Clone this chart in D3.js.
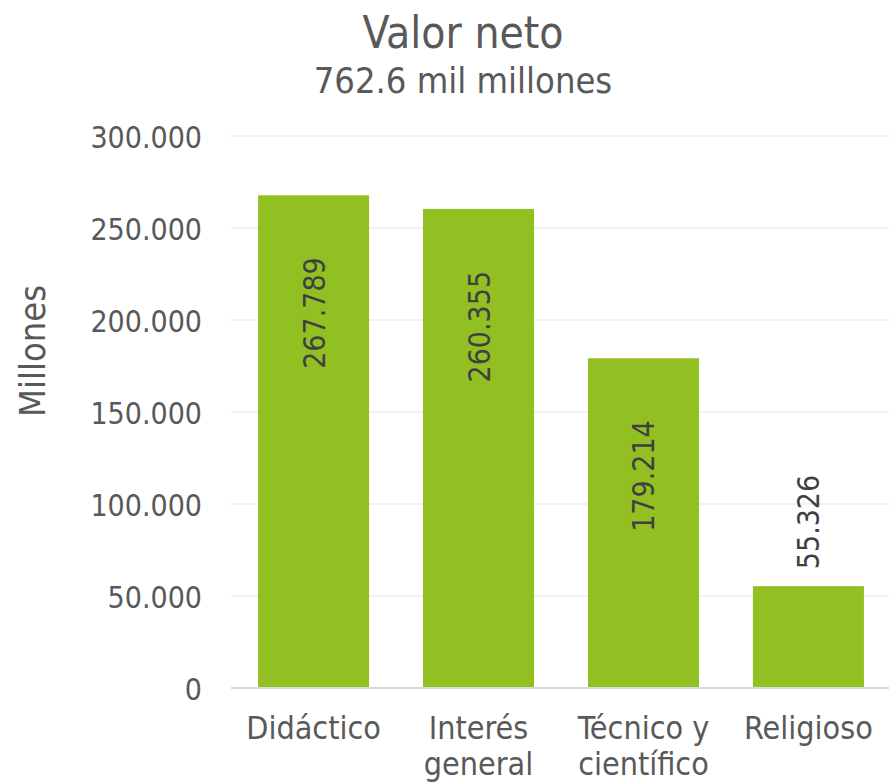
<!DOCTYPE html>
<html>
<head>
<meta charset="utf-8">
<script src="https://cdn.jsdelivr.net/npm/d3@7"></script>
<style>
  body { margin: 0; background: #fff; }
  svg text { font-family: "DejaVu Sans Condensed", "DejaVu Sans", sans-serif; font-stretch: condensed; }
</style>
</head>
<body>
<svg id="canvas" width="889" height="782"></svg>
<script>
/** Chart data */
const categories = [["Didáctico"], ["Interés", "general"], ["Técnico y", "científico"], ["Religioso"]];
const values = [267789, 260355, 179214, 55326];
const valueLabels = ["267.789", "260.355", "179.214", "55.326"];
const yTicks = [0, 50000, 100000, 150000, 200000, 250000, 300000];
const yTickLabels = ["0", "50.000", "100.000", "150.000", "200.000", "250.000", "300.000"];
const title = "Valor neto";
const subtitle = "762.6 mil millones";
const yTitle = "Millones";

const barColor = "#92c022";

let canvas = d3.select('#canvas');

const names = categories.map((c) => c.join(' '));

/** Scales */
let x = d3.scaleBand()
    .domain(names)
    .range([231, 891])
    .paddingInner(0.327)
    .paddingOuter(0.164);

let y = d3.scaleLinear()
    .domain([0, 300000])
    .range([688, 136]);

/** Gridlines */
canvas.append('g')
    .selectAll('line')
    .data(yTicks.slice(1))
    .enter()
    .append('line')
    .attr('x1', 231)
    .attr('x2', 889)
    .attr('y1', (d) => y(d))
    .attr('y2', (d) => y(d))
    .attr('stroke', '#eeeeee')
    .attr('stroke-width', 1.5);

/** Y tick labels */
canvas.append('g')
    .selectAll('text')
    .data(yTicks)
    .enter()
    .append('text')
    .attr('x', 202)
    .attr('y', (d) => y(d) + 12)
    .attr('text-anchor', 'end')
    .attr('fill', '#595959')
    .style('font-size', '30px')
    .text((d, i) => yTickLabels[i]);

/** Bars */
canvas.append('g')
    .selectAll('rect')
    .data(values)
    .enter()
    .append('rect')
    .attr('x', (d, i) => x(names[i]))
    .attr('y', (d) => y(d))
    .attr('width', x.bandwidth())
    .attr('height', (d) => y(0) - y(d))
    .attr('fill', barColor);

/** Baseline */
canvas.append('line')
    .attr('x1', 231)
    .attr('x2', 889)
    .attr('y1', y(0))
    .attr('y2', y(0))
    .attr('stroke', '#d9d9d9')
    .attr('stroke-width', 2);

/** Value labels: inside end when there is room, else above */
canvas.append('g')
    .selectAll('text')
    .data(values)
    .enter()
    .append('text')
    .attr('transform', (d, i) => {
        let cx = x(names[i]) + x.bandwidth() / 2 + 11;
        let inside = (y(0) - y(d)) > 200;
        let ty = inside ? y(d) + 62 : y(d) - 17;
        return `translate(${cx},${ty}) rotate(-90)`;
    })
    .attr('text-anchor', (d) => (y(0) - y(d)) > 200 ? 'end' : 'start')
    .attr('fill', '#404040')
    .style('font-size', '30px')
    .text((d, i) => valueLabels[i]);

/** Category labels */
let catText = canvas.append('g')
    .selectAll('text')
    .data(categories)
    .enter()
    .append('text')
    .attr('text-anchor', 'middle')
    .attr('fill', '#595959')
    .style('font-size', '32px');

catText.selectAll('tspan')
    .data((c, i) => c.map((line) => ({ line: line, name: names[i] })))
    .enter()
    .append('tspan')
    .attr('x', (d) => x(d.name) + x.bandwidth() / 2)
    .attr('y', (d, j) => 739 + j * 36)
    .text((d) => d.line);

/** Y axis title */
canvas.append('text')
    .attr('transform', 'translate(45,351) rotate(-90)')
    .attr('text-anchor', 'middle')
    .attr('fill', '#595959')
    .style('font-size', '36px')
    .text(yTitle);

/** Titles */
canvas.append('text')
    .attr('x', 463)
    .attr('y', 48)
    .attr('text-anchor', 'middle')
    .attr('fill', '#595959')
    .style('font-size', '44px')
    .text(title);

canvas.append('text')
    .attr('x', 463)
    .attr('y', 93)
    .attr('text-anchor', 'middle')
    .attr('fill', '#595959')
    .style('font-size', '36px')
    .text(subtitle);
</script>
</body>
</html>
